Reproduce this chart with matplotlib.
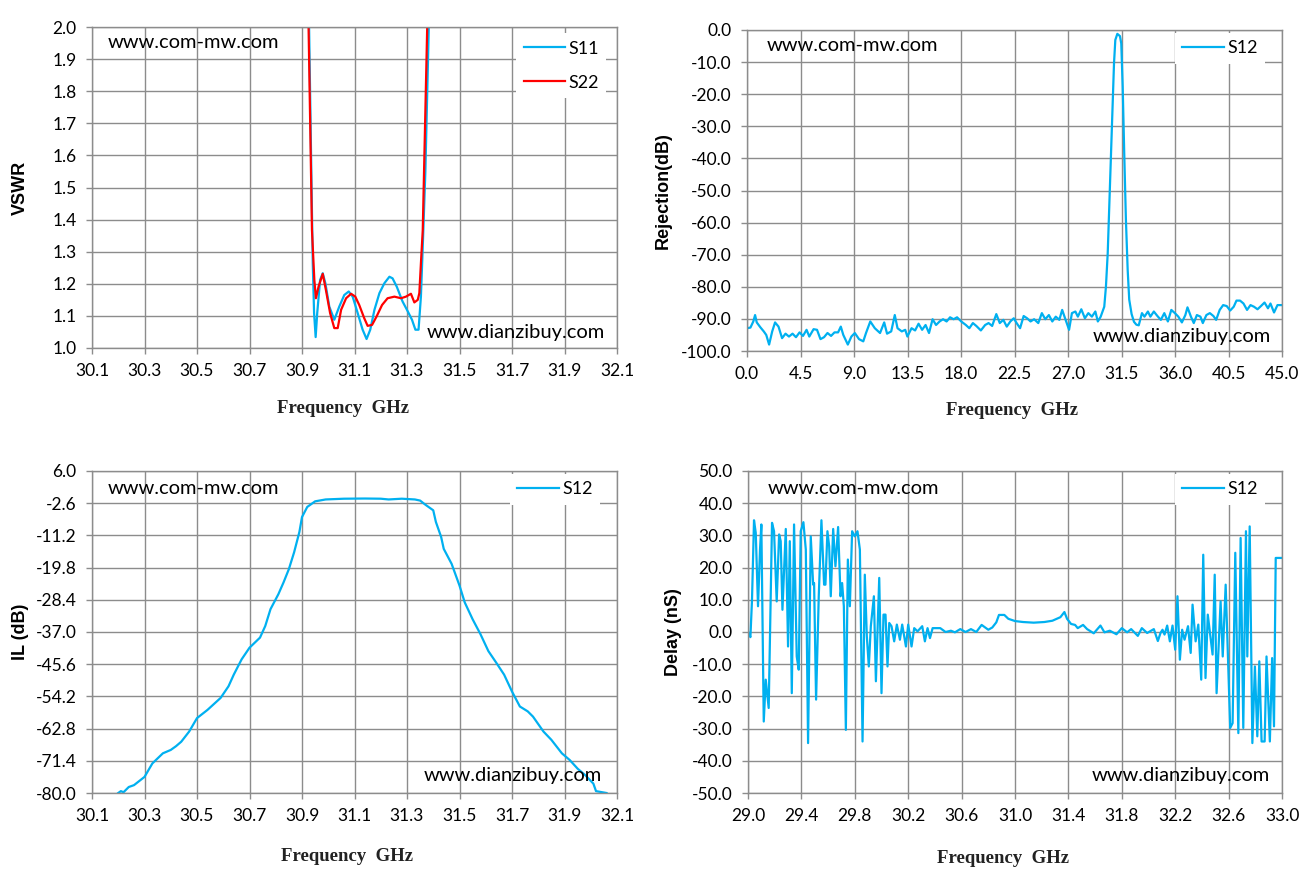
import numpy as np
import matplotlib
matplotlib.use("Agg")
import matplotlib.pyplot as plt

# ---- VSWR (top left) ----
s11_f = [30.927, 30.941, 30.946, 30.952, 30.958, 30.969, 30.979, 30.989, 31.004, 31.023,
         31.042, 31.061, 31.078, 31.093, 31.112, 31.131, 31.146, 31.160, 31.176, 31.195,
         31.214, 31.233, 31.245, 31.261, 31.283, 31.303, 31.319, 31.332, 31.344, 31.353,
         31.360, 31.370, 31.383]
s11_v = [2.000, 1.264, 1.109, 1.034, 1.109, 1.212, 1.233, 1.202, 1.129, 1.088,
         1.129, 1.165, 1.176, 1.160, 1.109, 1.057, 1.028, 1.057, 1.119, 1.171,
         1.202, 1.222, 1.217, 1.191, 1.145, 1.114, 1.088, 1.057, 1.057, 1.160,
         1.315, 1.550, 2.000]
s22_f = [30.925, 30.938, 30.947, 30.953, 30.963, 30.979, 30.991, 31.007, 31.023, 31.036,
         31.049, 31.068, 31.087, 31.103, 31.118, 31.137, 31.150, 31.167, 31.184, 31.205,
         31.226, 31.252, 31.277, 31.296, 31.315, 31.328, 31.341, 31.347, 31.353, 31.360,
         31.377]
s22_v = [2.000, 1.367, 1.212, 1.155, 1.191, 1.231, 1.181, 1.109, 1.062, 1.062,
         1.119, 1.155, 1.169, 1.160, 1.134, 1.093, 1.069, 1.072, 1.098, 1.134,
         1.155, 1.160, 1.155, 1.160, 1.169, 1.142, 1.150, 1.171, 1.264, 1.367,
         2.000]

# ---- Rejection (top right) ----
rej_f = [0.00, 0.29, 0.53, 0.68, 0.82, 1.12, 1.41, 1.62, 1.86, 2.12, 2.36, 2.65, 2.95, 3.24,
         3.53, 3.83, 4.12, 4.42, 4.71, 5.01, 5.24, 5.60, 5.89, 6.18, 6.48, 6.77, 7.07, 7.36,
         7.66, 7.89, 8.10, 8.48, 8.78, 9.07, 9.42, 9.78, 10.01, 10.37, 10.75, 11.19, 11.54,
         11.78, 12.13, 12.43, 12.66, 13.02, 13.31, 13.49, 13.84, 14.14, 14.43, 14.73, 15.02,
         15.31, 15.61, 15.90, 16.20, 16.49, 16.79, 17.08, 17.38, 17.67, 18.02, 18.41, 18.70,
         19.00, 19.29, 19.67, 20.03, 20.32, 20.62, 20.97, 21.26, 21.56, 21.85, 22.15, 22.44,
         22.68, 22.97, 23.27, 23.56, 23.85, 24.15, 24.50, 24.80, 25.09, 25.39, 25.68, 25.97,
         26.27, 26.51, 26.80, 27.09, 27.33, 27.62, 27.83, 28.12, 28.42, 28.71, 29.01, 29.30,
         29.51, 29.75, 29.95, 30.05, 30.19, 30.34, 30.47, 30.61, 30.76, 30.87, 30.98, 31.15,
         31.37, 31.48, 31.60, 31.73, 31.87, 32.02, 32.15, 32.35, 32.55, 32.75, 32.95, 33.22,
         33.43, 33.72, 33.93, 34.22, 34.52, 34.81, 35.10, 35.40, 35.69, 35.99, 36.28, 36.58,
         36.87, 37.05, 37.34, 37.58, 37.84, 38.14, 38.34, 38.64, 38.93, 39.23, 39.46, 39.76,
         40.05, 40.35, 40.64, 40.94, 41.17, 41.47, 41.76, 42.06, 42.35, 42.64, 42.94, 43.23,
         43.53, 43.82, 44.03, 44.33, 44.62, 45.00]
rej_db = [-92.9, -92.7, -90.8, -88.8, -91.1, -92.6, -93.9, -95.0, -98.0, -93.9, -91.1, -92.4,
          -96.0, -94.6, -95.5, -94.6, -95.7, -94.2, -95.3, -93.4, -95.5, -93.2, -93.4, -96.3,
          -95.7, -94.4, -95.3, -94.2, -94.2, -92.4, -95.0, -98.0, -95.5, -94.4, -96.3, -97.0,
          -94.4, -90.8, -92.9, -94.4, -91.1, -94.6, -93.9, -88.8, -92.9, -93.9, -93.4, -95.5,
          -92.9, -93.6, -91.5, -93.4, -91.9, -94.4, -90.1, -91.9, -90.8, -90.1, -90.8, -89.5,
          -90.1, -89.5, -90.8, -91.9, -92.9, -91.3, -92.2, -93.6, -91.9, -91.3, -92.2, -88.5,
          -91.3, -90.3, -92.4, -90.8, -89.8, -91.3, -92.9, -89.1, -89.8, -90.8, -90.1, -91.3,
          -88.2, -90.1, -88.8, -90.8, -89.3, -90.3, -87.2, -90.3, -93.4, -88.2, -87.7, -89.3,
          -87.0, -89.8, -88.2, -89.3, -87.7, -90.8, -89.3, -87.2, -86.2, -80.0, -69.6, -55.0,
          -38.4, -22.8, -10.4, -3.1, -1.2, -1.9, -4.2, -17.7, -38.4, -59.0, -74.8, -84.0,
          -88.5, -90.9, -91.8, -92.0, -88.2, -89.3, -87.7, -89.3, -87.7, -89.1, -90.3, -88.2,
          -90.8, -87.2, -88.2, -89.3, -91.1, -88.8, -86.4, -89.3, -91.3, -88.8, -89.3, -91.3,
          -88.8, -88.2, -89.1, -90.3, -87.2, -85.7, -86.0, -87.4, -86.2, -84.3, -84.3, -85.2,
          -87.2, -85.7, -86.2, -87.0, -86.0, -84.9, -86.7, -85.2, -88.0, -85.7, -85.7]

# ---- Insertion loss (bottom left) ----
il_f = [30.20, 30.21, 30.22, 30.24, 30.26, 30.30, 30.33, 30.37, 30.40, 30.42, 30.44, 30.47,
        30.50, 30.54, 30.59, 30.62, 30.64, 30.67, 30.70, 30.74, 30.76, 30.78, 30.81, 30.83,
        30.85, 30.87, 30.89, 30.90, 30.92, 30.95, 30.99, 31.06, 31.14, 31.20, 31.23, 31.28,
        31.33, 31.35, 31.37, 31.40, 31.41, 31.43, 31.44, 31.47, 31.50, 31.52, 31.55, 31.58,
        31.61, 31.64, 31.67, 31.70, 31.73, 31.76, 31.78, 31.82, 31.85, 31.89, 31.92, 31.95,
        31.98, 32.01, 32.02, 32.06]
il_db = [-80.0, -79.5, -79.8, -78.4, -77.9, -75.7, -72.1, -69.4, -68.5, -67.5, -66.3, -63.6,
         -60.0, -57.8, -54.6, -51.5, -48.4, -44.3, -41.2, -38.5, -35.4, -30.9, -26.9, -23.7,
         -20.2, -15.7, -10.3, -6.3, -3.6, -2.1, -1.6, -1.4, -1.35, -1.4, -1.6, -1.4,
         -1.6, -1.9, -3.0, -4.5, -7.6, -11.6, -14.8, -18.8, -24.6, -29.1, -33.6, -37.6,
         -42.1, -45.2, -48.4, -52.9, -56.9, -58.2, -59.6, -63.6, -65.8, -69.4, -71.2, -73.5,
         -75.3, -77.5, -79.5, -80.0]

# ---- Group delay (bottom right) ----
gd_f = [29.005, 29.018, 29.030, 29.045, 29.058, 29.075, 29.090, 29.100, 29.118, 29.133,
        29.155, 29.180, 29.195, 29.215, 29.233, 29.245, 29.258, 29.283, 29.300, 29.313,
        29.328, 29.345, 29.365, 29.380, 29.395, 29.415, 29.433, 29.450, 29.470, 29.488,
        29.495, 29.510, 29.530, 29.550, 29.570, 29.580, 29.595, 29.608, 29.620, 29.638,
        29.655, 29.675, 29.693, 29.705, 29.718, 29.733, 29.748, 29.763, 29.780, 29.800,
        29.820, 29.838, 29.858, 29.875, 29.890, 29.905, 29.920, 29.943, 29.958, 29.983,
        30.000, 30.015, 30.030, 30.045, 30.058, 30.075, 30.095, 30.115, 30.138, 30.155,
        30.183, 30.200, 30.225, 30.245, 30.270, 30.305, 30.325, 30.345, 30.363, 30.383,
        30.44, 30.48, 30.52, 30.55, 30.59, 30.63, 30.67, 30.71, 30.75, 30.80,
        30.83, 30.86, 30.88, 30.92, 30.95, 31.00, 31.06, 31.14, 31.22, 31.28,
        31.34, 31.37, 31.39, 31.42, 31.45, 31.47, 31.51, 31.54, 31.59, 31.64,
        31.67, 31.71, 31.76, 31.80, 31.84, 31.87, 31.92, 31.95, 31.99, 32.04,
        32.07, 32.09, 32.105, 32.12, 32.14, 32.16, 32.18, 32.20, 32.217, 32.235,
        32.252, 32.27, 32.296, 32.316, 32.33, 32.353, 32.373, 32.395, 32.41, 32.427,
        32.444, 32.48, 32.496, 32.51, 32.54, 32.556, 32.578, 32.612, 32.63, 32.65,
        32.673, 32.69, 32.71, 32.73, 32.74, 32.758, 32.778, 32.797, 32.815, 32.83,
        32.847, 32.87, 32.884, 32.909, 32.926, 32.94, 32.953, 32.983, 33.0]
gd_ns = [-0.3, -1.6, 10.0, 34.7, 30.8, 8.0, 25.6, 33.4, -27.8, -14.8,
         -23.6, 33.9, 31.3, 9.5, 30.3, 28.2, 6.9, 32.0, -4.5, 28.2,
         -19.0, 33.4, -7.6, -11.7, 31.3, 34.1, 25.6, -34.5, 29.7, 14.7,
         15.2, -21.0, 11.1, 34.7, 14.7, 14.7, 31.3, 26.6, 11.1, 32.0,
         20.4, 32.6, 11.1, 15.2, 8.0, -30.4, 22.5, 8.0, 31.3, 29.7,
         31.3, 25.6, -34.0, 17.8, -1.3, -10.7, 1.8, 11.1, -15.3, 16.8,
         -19.0, 5.4, 5.4, -10.7, 2.8, 1.8, -2.9, 2.3, -2.4, 2.3,
         -4.5, 2.3, -4.5, 1.2, 0.2, 1.8, -2.9, 1.2, -1.9, 1.2,
         1.2, 0.0, 0.4, -0.1, 0.9, 0.0, 0.9, 0.0, 2.2, 0.7,
         1.4, 3.0, 5.3, 5.3, 4.1, 3.4, 3.1, 2.9, 3.1, 3.5,
         4.6, 6.2, 4.1, 2.5, 2.2, 1.2, 2.2, 0.9, -0.4, 2.0,
         -0.1, 0.4, -0.7, 1.2, -0.1, 0.9, -1.2, 1.2, -0.3, 0.9,
         -2.8, -0.3, 0.7, -0.8, 2.0, -2.9, 2.0, -5.5, 11.1, -8.6,
         0.7, -2.4, 1.8, -6.5, 8.5, -2.9, 2.3, -14.8, 24.0, -14.3,
         5.4, -7.0, 17.8, -19.0, 9.5, -7.6, 14.7, -29.8, -28.3, 24.6,
         -31.4, 29.2, -29.8, 31.3, -7.6, 32.8, -34.5, -10.7, -32.4, -9.1,
         -34.0, -34.0, -7.6, -34.0, -8.1, -29.3, 23.0, 23.0, 23.0]

BLUE = "#00B0F0"
RED = "#FF0000"
GRID = "#8C8C8C"
TICK_FONT = ["Lato", "DejaVu Sans"]
W, H = 1310, 883

fig = plt.figure(figsize=(W / 100, H / 100), dpi=100)


def make_axes(l, t, r, b):
    return fig.add_axes([l / W, 1 - b / H, (r - l) / W, (b - t) / H])


def style(ax, xticks, xlab, yticks, ylab, ylabel, ylabel_x, xlabel_pos):
    ax.set_xlim(xticks[0], xticks[-1])
    ax.set_ylim(min(yticks), max(yticks))
    ax.set_xticks(xticks)
    ax.set_xticklabels(xlab, family=TICK_FONT, fontsize=12.5)
    ax.set_yticks(yticks)
    ax.set_yticklabels(ylab, family=TICK_FONT, fontsize=12.5)
    ax.grid(True, color=GRID, linewidth=1.0)
    ax.set_axisbelow(True)
    for sp in ax.spines.values():
        sp.set_color(GRID)
        sp.set_linewidth(1.0)
    ax.tick_params(direction="out", length=4, width=1.0, color=GRID, pad=7)
    ax.text(ylabel_x, 0.5, ylabel, transform=ax.transAxes, rotation=90,
            ha="center", va="center", fontsize=13, fontweight="bold",
            family="Liberation Sans")
    ax.text(xlabel_pos[0], xlabel_pos[1], "Frequency  GHz", transform=ax.transAxes,
            ha="center", va="center", fontsize=13.5, fontweight="bold",
            family="Liberation Serif", color="#222222")


def marks(ax, top_x, top_y, bot_x, bot_y):
    ax.text(top_x, top_y, "www.com-mw.com", transform=ax.transAxes, ha="left",
            va="center", fontsize=14.5, family=TICK_FONT)
    ax.text(bot_x, bot_y, "www.dianzibuy.com", transform=ax.transAxes, ha="right",
            va="center", fontsize=14.5, family=TICK_FONT)


def legend(ax, anchor, spacing=0.5):
    leg = ax.legend(loc="upper right", bbox_to_anchor=anchor, frameon=True,
                    fancybox=False, edgecolor="none", facecolor="white", framealpha=1,
                    handlelength=2.3, handletextpad=0.2, borderaxespad=0,
                    labelspacing=spacing, prop={"family": TICK_FONT, "size": 13})
    return leg


# top left: VSWR
ax1 = make_axes(92, 27, 617, 348)
ax1.plot(s11_f, s11_v, color=BLUE, lw=1.6, label="S11")
ax1.plot(s22_f, s22_v, color=RED, lw=1.6, label="S22")
xt = np.round(np.arange(30.1, 32.11, 0.2), 1)
yt = np.round(np.arange(1.0, 2.01, 0.1), 1)
style(ax1, xt, [f"{v:.1f}" for v in xt], yt, [f"{v:.1f}" for v in yt],
      "VSWR", -0.137, (0.478, -0.187))
marks(ax1, 0.03, 0.953, 0.977, 0.047)
legend(ax1, (0.98, 0.98), spacing=1.0)

# top right: rejection
ax2 = make_axes(747, 30, 1282, 351)
ax2.plot(rej_f, rej_db, color=BLUE, lw=1.6, label="S12")
xt = np.round(np.arange(0, 45.01, 4.5), 1)
yt = np.arange(0, -100.1, -10.0)
style(ax2, xt, [f"{v:.1f}" for v in xt], yt, [f"{v:.1f}" for v in yt],
      "Rejection(dB)", -0.157, (0.495, -0.184))
marks(ax2, 0.037, 0.953, 0.979, 0.044)
legend(ax2, (0.968, 0.99))

# bottom left: insertion loss
ax3 = make_axes(92, 471, 617, 793)
ax3.plot(il_f, il_db, color=BLUE, lw=1.6, label="S12")
xt = np.round(np.arange(30.1, 32.11, 0.2), 1)
yt = [round(6.0 - 8.6 * i, 1) for i in range(11)]
style(ax3, xt, [f"{v:.1f}" for v in xt], yt, [f"{v:.1f}" for v in yt],
      "IL (dB)", -0.137, (0.486, -0.196))
marks(ax3, 0.029, 0.947, 0.971, 0.053)
legend(ax3, (0.968, 0.99))

# bottom right: group delay
ax4 = make_axes(748, 471, 1282, 793)
ax4.plot(gd_f, gd_ns, color=BLUE, lw=1.6, label="S12")
xt = np.round(np.arange(29.0, 33.01, 0.4), 1)
yt = np.arange(-50, 50.1, 10.0)
style(ax4, xt, [f"{v:.1f}" for v in xt], yt, [f"{v:.1f}" for v in yt],
      "Delay (nS)", -0.14, (0.478, -0.202))
marks(ax4, 0.036, 0.947, 0.978, 0.053)
legend(ax4, (0.968, 0.99))

fig.savefig("out.png", dpi=100)
